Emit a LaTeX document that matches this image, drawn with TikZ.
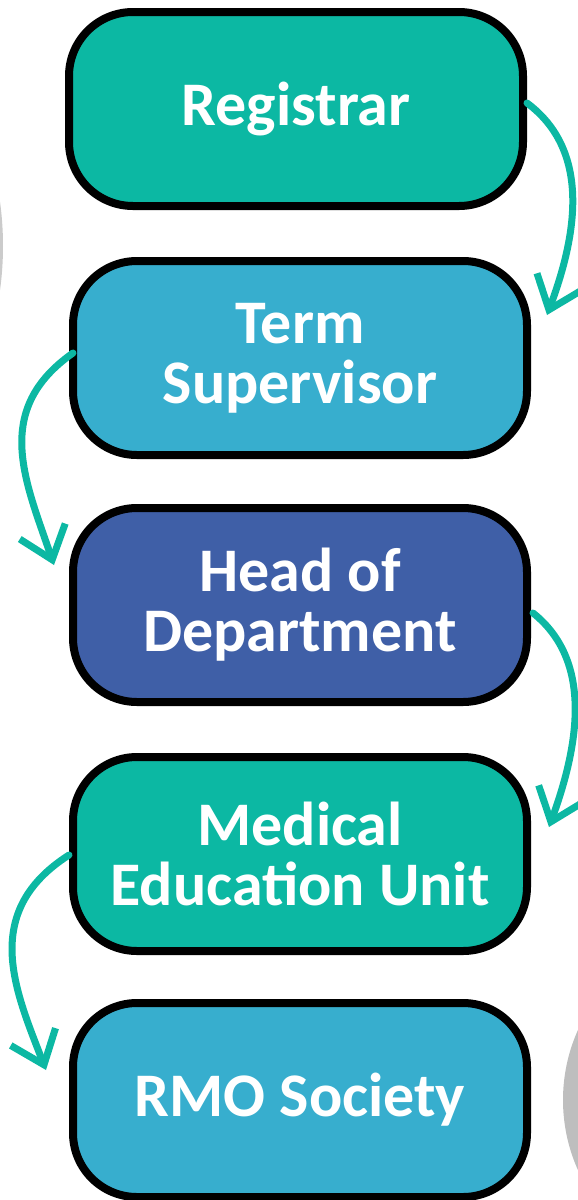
\documentclass[tikz,border=0pt]{standalone}
\usepackage{fontspec}
\setmainfont{Carlito}
\usetikzlibrary{arrows.meta}
\usetikzlibrary{calc}

\definecolor{stageteal}{HTML}{0CB8A3}
\definecolor{stagesky}{HTML}{37AECE}
\definecolor{stagenavy}{HTML}{3F5FA7}
\definecolor{sidegray}{HTML}{BEBEBE}

\begin{document}
\begin{tikzpicture}[x=0.5pt,y=-0.5pt]
    \tikzset{
      stage/.style={
        rectangle,
        rounded corners=32pt,
        minimum width=227pt,
        minimum height=97pt,
        inner sep=0mm,
        outer sep=0mm,
        line width=4pt,
        align=center,
        text=white,
        font=\bfseries\fontsize{31pt}{30pt}\selectfont,
        draw
      },
      flow/.style={
        draw=stageteal,
        line width=3.5pt,
        line cap=round,
        -{Straight Barb[length=15pt,width=24pt]}
      }
    }

    \useasboundingbox (0,0) rectangle (578,1200);

    %Gray edges
    \begin{scope}
      \clip (0,0) rectangle (578,1200);
      \fill[sidegray!80] (-321,246) circle (324);
      \fill[sidegray] (734,1100) circle (171);
    \end{scope}

    %Registrar node
    \node[stage,fill=stageteal] at (296,109) (reg) {Registrar};
    %Term supervisor node
    \node[stage,fill=stagesky] at (300,358) (sup) {Term\\Supervisor};
    %Head of department node
    \node[stage,fill=stagenavy] at (300,605) (hod) {Head of\\Department};
    %Medical education unit node
    \node[stage,fill=stageteal] at (300,854) (meu) {Medical\\Education Unit};
    %RMO society node
    \node[stage,fill=stagesky] at (300,1100) (rmo) {RMO Society};

    %Right arrows
    \draw[flow] ($(reg.east)+(4,-6)$) .. controls (590,150) and (578,232) .. ($(sup.east)+(20,-43)$);
    \draw[flow] ($(hod.east)+(6,8)$) .. controls (592,660) and (580,742) .. ($(meu.east)+(22,-27)$);
    %Left arrows
    \draw[flow] ($(sup.west)+(0,-5)$) .. controls (-8,410) and (25,480) .. ($(hod.west)+(-19,-40)$);
    \draw[flow] ($(meu.west)+(-4,1)$) .. controls (-20,912) and (15,990) .. ($(rmo.west)+(-27,-30)$);
  \end{tikzpicture}
\end{document}
